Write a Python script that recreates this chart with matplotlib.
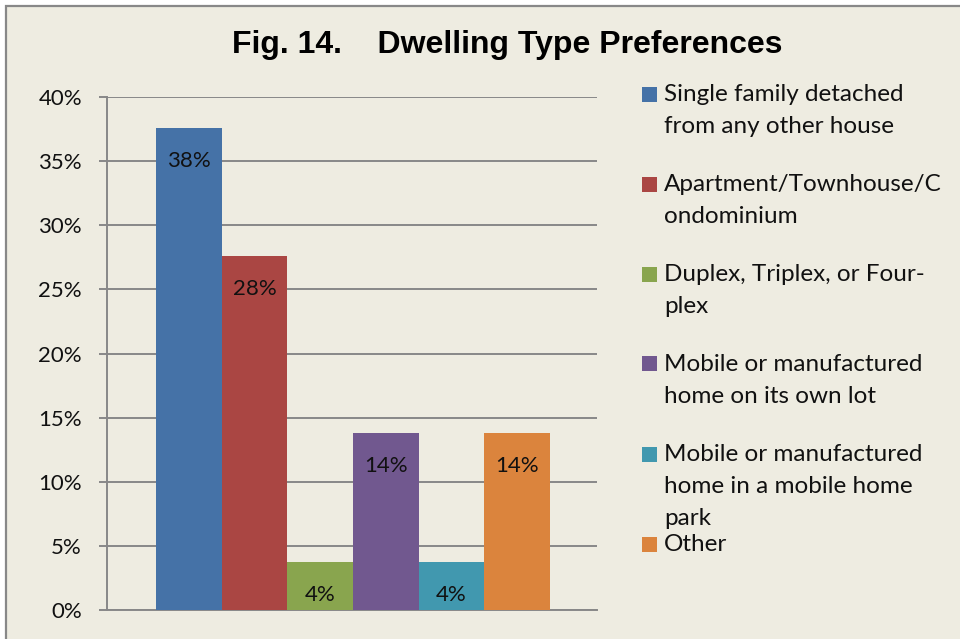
import matplotlib

matplotlib.use("Agg")
import matplotlib.pyplot as plt
import numpy as np
from matplotlib.patches import Rectangle
from matplotlib.ticker import FuncFormatter

plt.rcParams["font.family"] = ["Lato", "DejaVu Sans"]

TITLE = "Fig. 14.    Dwelling Type Preferences"
series_names = [
    "Single family detached\nfrom any other house",
    "Apartment/Townhouse/C\nondominium",
    "Duplex, Triplex, or Four-\nplex",
    "Mobile or manufactured\nhome on its own lot",
    "Mobile or manufactured\nhome in a mobile home\npark",
    "Other",
]
values = [37.6, 27.6, 3.75, 13.8, 3.75, 13.8]
colors = ["#4572A7", "#AA4643", "#89A54E", "#71588F", "#4198AF", "#DB843D"]
yticks = [0, 5, 10, 15, 20, 25, 30, 35, 40]

W, H = 960, 639
BG = "#EEECE1"
GRID = "#888888"


def fx(px):
    return px / W


def fy(py):
    return 1 - py / H


fig = plt.figure(figsize=(W / 100, H / 100), dpi=100, facecolor="white")
# chart area frame (right/bottom edges fall outside the image)
fig.add_artist(Rectangle((fx(6), -0.05), 1.0, fy(6) + 0.05, transform=fig.transFigure,
                         facecolor=BG, edgecolor=GRID, linewidth=1.6, zorder=0))

ax = fig.add_axes([fx(107), fy(610), fx(597) - fx(107), fy(97) - fy(610)])
ax.set_facecolor("none")

n = len(values)
offsets = np.arange(n) - (n - 1) / 2
for off, v, c in zip(offsets, values, colors):
    ax.bar(off, v, width=1.0, color=c, zorder=3)
    ax.annotate(f"{v:.0f}%", (off, v), xytext=(0, -24), textcoords="offset points",
                ha="center", va="center", fontsize=16, color="#111111", zorder=4)

ax.set_xlim(-3.75, 3.72)
ax.set_ylim(0, 40)
ax.set_yticks(yticks)
ax.yaxis.set_major_formatter(FuncFormatter(lambda v, _: f"{v:.0f}%"))
ax.set_xticks([])
ax.grid(axis="y", color=GRID, linewidth=1.4, zorder=0)
ax.tick_params(axis="y", length=6, width=1.4, color=GRID, pad=12, labelsize=16, labelcolor="#111111")
for side in ["top", "right"]:
    ax.spines[side].set_visible(False)
for side in ["left", "bottom"]:
    ax.spines[side].set_color(GRID)
    ax.spines[side].set_linewidth(1.4)

fig.text(fx(507), fy(45), TITLE, ha="center", va="center", fontsize=23,
         fontweight="bold", family=["Liberation Sans", "DejaVu Sans"], color="#000000")

# legend: fixed step between entries, as in the source chart
step = 90
for i, (name, c) in enumerate(zip(series_names, colors)):
    yc = 94 + i * step
    fig.add_artist(Rectangle((fx(642), fy(yc + 7.5)), fx(15), 15 / H, transform=fig.transFigure,
                             facecolor=c, edgecolor="none"))
    fig.text(fx(664), fy(yc - 10), name, ha="left", va="top", fontsize=17.5,
             linespacing=1.66, color="#111111")

fig.savefig("out.png", dpi=100, facecolor=fig.get_facecolor())
